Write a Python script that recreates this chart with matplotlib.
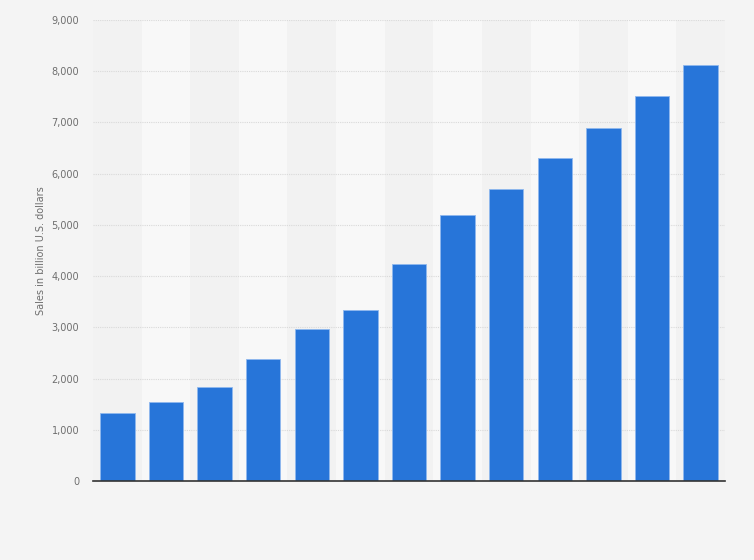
import numpy as np
import matplotlib.pyplot as plt
from matplotlib.ticker import FuncFormatter

# sales per period, billion U.S. dollars (no category labels shown)
bar_index = np.arange(13)
sales = [1330, 1540, 1840, 2380, 2970, 3340, 4240, 5190, 5700, 6300, 6890, 7520, 8120]
y_ticks = [0, 1000, 2000, 3000, 4000, 5000, 6000, 7000, 8000, 9000]

fig = plt.figure(figsize=(7.54, 5.6), dpi=100)
fig.patch.set_facecolor('#f4f4f4')
ax = fig.add_axes([93 / 754, 1 - 481 / 560, 632 / 754, 461 / 560])
ax.set_facecolor('#f2f2f2')

# alternating column bands
for i in bar_index:
    ax.axvspan(i - 0.5, i + 0.5, color='#f2f2f2' if i % 2 == 0 else '#f8f8f8', zorder=0, lw=0)

ax.bar(bar_index, sales, width=0.71, color='#2775d9', edgecolor='#8fb8ee', linewidth=0.6, zorder=3)

ax.set_xlim(-0.5, 12.5)
ax.set_ylim(0, 9000)
ax.set_yticks(y_ticks)
ax.yaxis.set_major_formatter(FuncFormatter(lambda v, p: f'{int(v):,}'))
ax.set_xticks([])
ax.grid(axis='y', color='#d9d9d9', linestyle=(0, (1, 1)), linewidth=0.8, zorder=1)
ax.tick_params(axis='y', length=0, pad=10, labelsize=7, labelcolor='#6e6e6e')

for s in ['top', 'right', 'left']:
    ax.spines[s].set_visible(False)
ax.spines['bottom'].set_color('#333333')
ax.spines['bottom'].set_linewidth(1.2)
ax.spines['bottom'].set_zorder(4)

ax.set_ylabel('Sales in billion U.S. dollars', fontsize=7, color='#6e6e6e', labelpad=4)

fig.savefig('out.png', dpi=100, facecolor=fig.get_facecolor())
